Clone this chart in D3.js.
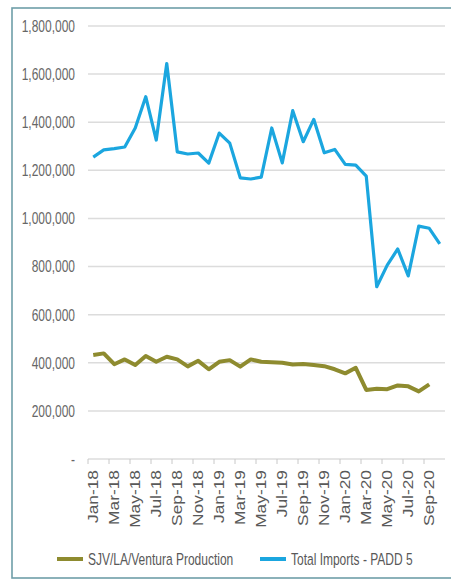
<!DOCTYPE html>
<html><head><meta charset="utf-8">
<script src="https://cdn.jsdelivr.net/npm/d3@7"></script>
<style>html,body{margin:0;padding:0;background:#fff;}svg{display:block;}</style>
</head><body>
<svg id="c" width="451" height="582"></svg>
<script>
const months = ["Jan-18","Feb-18","Mar-18","Apr-18","May-18","Jun-18","Jul-18","Aug-18","Sep-18","Oct-18","Nov-18","Dec-18",
"Jan-19","Feb-19","Mar-19","Apr-19","May-19","Jun-19","Jul-19","Aug-19","Sep-19","Oct-19","Nov-19","Dec-19",
"Jan-20","Feb-20","Mar-20","Apr-20","May-20","Jun-20","Jul-20","Aug-20","Sep-20","Oct-20"];
const imports = [1255000,1285000,1290000,1297000,1376000,1506000,1326000,1644000,1277000,1268000,1272000,1230000,
1355000,1313000,1169000,1164000,1172000,1376000,1231000,1448000,1319000,1412000,1273000,1287000,
1225000,1222000,1176000,716000,806000,873000,761000,968000,959000,894000];
const production = [432000,439000,394000,414000,391000,428000,404000,425000,414000,385000,408000,373000,
404000,411000,384000,414000,404000,402000,400000,393000,395000,391000,386000,373000,
356000,379000,287000,292000,290000,306000,302000,281000,310000];
const yTicks = [0,200000,400000,600000,800000,1000000,1200000,1400000,1600000,1800000];
const seriesNames = ["SJV/LA/Ventura Production","Total Imports - PADD 5"];
const colors = ["#8e8b2f","#1ba6df"];

const svg = d3.select("#c");
const font = "'Liberation Sans', Arial, sans-serif";
// frame
svg.append("rect").attr("x",12).attr("y",8).attr("width",460).attr("height",570)
  .attr("fill","none").attr("stroke","#6e9ea8").attr("stroke-width",1.6);

const x = d3.scaleBand().domain(months).range([88,445]).padding(0);
const y = d3.scaleLinear().domain([0,1800000]).range([459,26]);
const bw = x.bandwidth();

// gridlines
svg.append("g").selectAll("line").data(yTicks).join("line")
  .attr("x1",88).attr("x2",445).attr("y1",d=>y(d)).attr("y2",d=>y(d))
  .attr("stroke","#dcdcdc").attr("stroke-width",1.5);

// y labels
const fmt = d3.format(",");
svg.append("g").selectAll("text").data(yTicks).join("text")
  .attr("text-anchor","end")
  .attr("transform",d=>`translate(75,${y(d)}) scale(1,1.4)`)
  .attr("dy","0.35em")
  .attr("font-family",font).attr("font-size",12).attr("fill","#666")
  .text(d=> d===0 ? "-" : fmt(d));

// x axis
const labelMonths = months.filter((m,i)=>i%2===0);
const ax = svg.append("g").attr("transform","translate(0,459)")
  .call(d3.axisBottom(x).tickValues(labelMonths).tickSize(5).tickSizeOuter(0));
ax.select(".domain").remove();
ax.selectAll(".tick line").attr("x1",-bw/2).attr("x2",-bw/2).attr("stroke","#c8c8c8");
ax.selectAll(".tick text")
  .attr("font-family",font).attr("font-size",14).attr("fill","#595959")
  .attr("text-anchor","end").attr("x",0).attr("y",0).attr("dy","0.35em")
  .attr("transform","translate(0,11) scale(1,1.24) rotate(-90)");

// lines
const line = d3.line().x((d,i)=>x(months[i])+bw/2).y(d=>y(d));
svg.append("path").datum(production).attr("d",line).attr("fill","none")
  .attr("stroke",colors[0]).attr("stroke-width",4).attr("stroke-linejoin","round");
svg.append("path").datum(imports).attr("d",line).attr("fill","none")
  .attr("stroke",colors[1]).attr("stroke-width",3.2).attr("stroke-linejoin","round");

// legend
const legX = [57,260];
const lg = svg.append("g");
seriesNames.forEach((n,i)=>{
  lg.append("line").attr("x1",legX[i]).attr("x2",legX[i]+26).attr("y1",559).attr("y2",559)
    .attr("stroke",colors[i]).attr("stroke-width",4);
  lg.append("text").attr("transform",`translate(${legX[i]+31},559) scale(1,1.4)`).attr("dy","0.35em")
    .attr("font-family",font).attr("font-size",12).attr("fill","#595959").text(n);
});
</script>
</body></html>
